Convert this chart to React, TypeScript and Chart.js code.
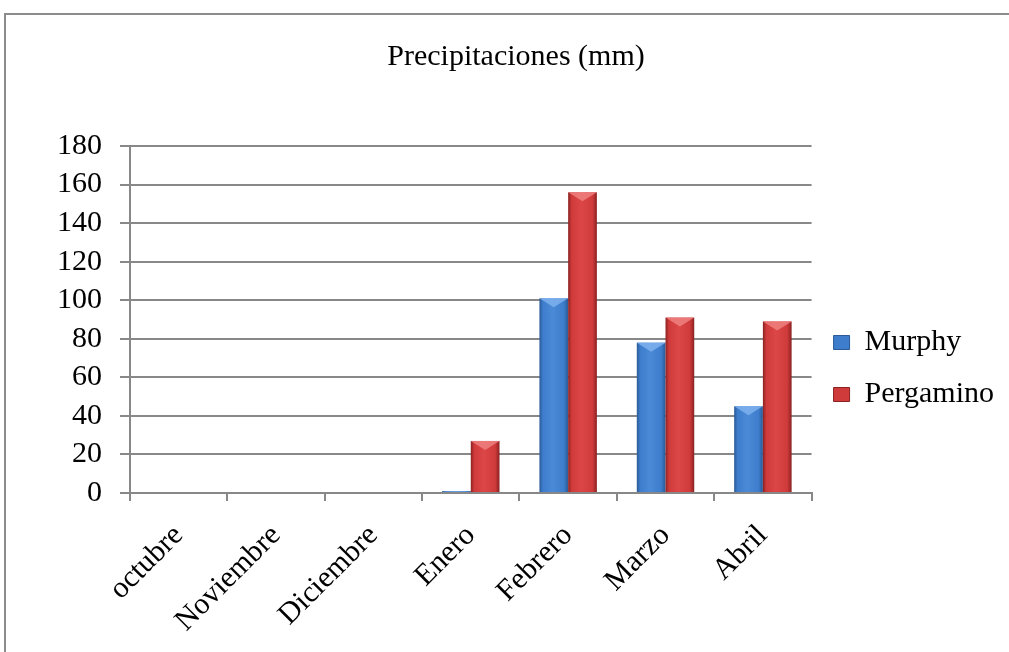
import React, { useEffect, useRef } from "react";
import { Chart, registerables } from "chart.js";

Chart.register(...registerables);

const categories = ["octubre", "Noviembre", "Diciembre", "Enero", "Febrero", "Marzo", "Abril"];
const murphy = [0, 0, 0, 1, 101, 78, 45];
const pergamino = [0, 0, 0, 27, 156, 91, 89];
const yTicks = [0, 20, 40, 60, 80, 100, 120, 140, 160, 180];

const FONT = "'Liberation Serif', 'Times New Roman', serif";
const FS = 30;

const palettes: Record<number, { dark: string; mid: string; light: string; top: string }> = {
  0: { dark: "#2b5a96", mid: "#3d7dcc", light: "#4a8ad6", top: "#7fb2ee" },
  1: { dark: "#8a2222", mid: "#cf3a3a", light: "#dc4646", top: "#ef8080" },
};

const bevelPlugin = {
  id: "bevel",
  afterDatasetsDraw(chart: any) {
    const ctx = chart.ctx;
    chart.data.datasets.forEach((_: any, di: number) => {
      const meta = chart.getDatasetMeta(di);
      const p = palettes[di];
      meta.data.forEach((el: any) => {
        const { x, y, base, width } = el.getProps(["x", "y", "base", "width"], true);
        const l = x - width / 2;
        const r = x + width / 2;
        const h = base - y;
        if (h < 0.5) return;
        ctx.save();
        const g = ctx.createLinearGradient(l, 0, r, 0);
        g.addColorStop(0, p.dark);
        g.addColorStop(0.12, p.mid);
        g.addColorStop(0.45, p.light);
        g.addColorStop(0.85, p.mid);
        g.addColorStop(1, p.dark);
        ctx.fillStyle = g;
        ctx.fillRect(l, y, width, h);
        const bv = Math.min(9, h / 2);
        ctx.fillStyle = p.top;
        ctx.globalAlpha = 0.85;
        ctx.beginPath();
        ctx.moveTo(l, y);
        ctx.lineTo(r, y);
        ctx.lineTo(x, y + bv);
        ctx.closePath();
        ctx.fill();
        ctx.restore();
      });
    });
  },
};

export default function App() {
  const ref = useRef<HTMLCanvasElement>(null);
  useEffect(() => {
    if (!ref.current) return;
    const chart = new Chart(ref.current, {
      type: "bar",
      data: {
        labels: categories,
        datasets: [
          { label: "Murphy", data: murphy, backgroundColor: "rgba(0,0,0,0)", borderWidth: 0, barPercentage: 1, categoryPercentage: 0.59 },
          { label: "Pergamino", data: pergamino, backgroundColor: "rgba(0,0,0,0)", borderWidth: 0, barPercentage: 1, categoryPercentage: 0.59 },
        ],
      },
      plugins: [bevelPlugin],
      options: {
        animation: false,
        responsive: false,
        layout: { padding: { left: 28, right: 5, top: 20, bottom: 11 } },
        plugins: {
          title: {
            display: true,
            text: "Precipitaciones (mm)",
            color: "#000",
            font: { family: FONT, size: FS, weight: "normal" },
            padding: { top: 19, bottom: 71 },
          },
          legend: {
            position: "right",
            title: { display: true, text: " ", font: { family: FONT, size: FS }, padding: { top: 20, bottom: 20 } },
            labels: {
              color: "#000",
              font: { family: FONT, size: FS },
              boxWidth: 16,
              boxHeight: 14,
              padding: 22,
              generateLabels: (chart: any) =>
                chart.data.datasets.map((ds: any, i: number) => ({
                  text: ds.label,
                  fillStyle: i === 0 ? "#3d7dcc" : "#cf3a3a",
                  strokeStyle: i === 0 ? "#2b5a96" : "#8a2222",
                  lineWidth: 1,
                  datasetIndex: i,
                  fontColor: "#000",
                })),
            },
          },
          tooltip: { enabled: false },
        },
        scales: {
          x: {
            offset: true,
            afterFit: (axis: any) => {
              axis.height = 148;
            },
            grid: { display: true, drawOnChartArea: false, offset: true, color: "#888", lineWidth: 2, tickLength: 8 },
            border: { color: "#888", width: 2 },
            ticks: { color: "#000", font: { family: FONT, size: FS }, minRotation: 45, maxRotation: 45, padding: 17, autoSkip: false },
          },
          y: {
            min: 0,
            max: 180,
            afterBuildTicks: (axis: any) => {
              axis.ticks = yTicks.map((v) => ({ value: v }));
            },
            afterFit: (axis: any) => {
              axis.width = 102;
            },
            grid: { color: "#888", lineWidth: 2, tickLength: 10 },
            border: { color: "#888", width: 2 },
            ticks: { color: "#000", font: { family: FONT, size: FS }, padding: 18, autoSkip: false },
          },
        },
      },
    });
    return () => chart.destroy();
  }, []);
  return (
    <div style={{ position: "absolute", left: 0, top: 0, width: 1009, height: 652, background: "#fff", overflow: "hidden" }}>
      <div style={{ position: "absolute", left: 4, top: 13, width: 1100, height: 700, borderLeft: "2px solid #8c8c8c", borderTop: "2px solid #8c8c8c" }} />
      <canvas ref={ref} width={1009} height={652} style={{ position: "absolute", left: 0, top: 0 }} />
    </div>
  );
}
